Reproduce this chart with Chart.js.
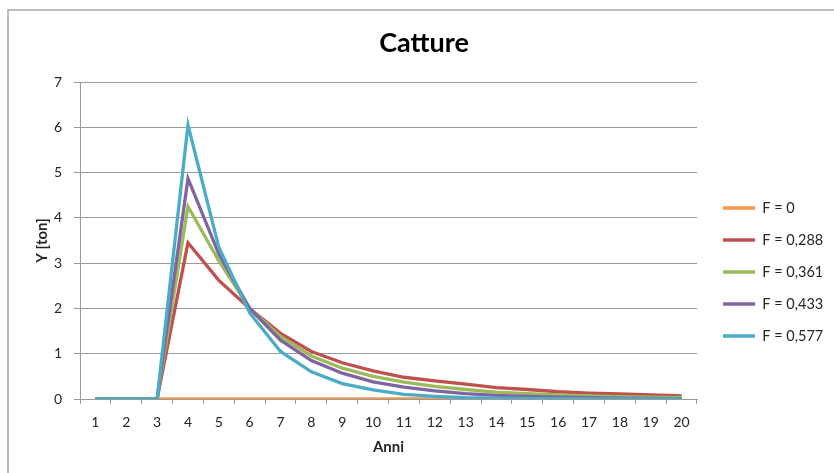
<!DOCTYPE html>
<html>
<head>
<meta charset="utf-8">
<script src="https://cdn.jsdelivr.net/npm/chart.js@4/dist/chart.umd.min.js"></script>
<style>
  html, body { margin: 0; padding: 0; background: #ffffff; }
  #c { display: block; }
</style>
</head>
<body>
<canvas id="c" width="834" height="473"></canvas>
<script>
// Years on the x axis
const anni = ['1','2','3','4','5','6','7','8','9','10','11','12','13','14','15','16','17','18','19','20'];

// Catch (tons) per year for each fishing mortality F
const catF0    = [0,0,0,0,0,0,0,0,0,0,0,0,0,0,0,0,0,0,0,0];
const catF0288 = [0,0,0,3.45,2.62,2.0,1.45,1.05,0.8,0.62,0.48,0.4,0.33,0.25,0.21,0.16,0.13,0.11,0.09,0.07];
const catF0361 = [0,0,0,4.25,3.05,2.0,1.38,0.95,0.68,0.5,0.37,0.28,0.21,0.15,0.12,0.09,0.07,0.05,0.04,0.03];
const catF0433 = [0,0,0,4.87,3.2,2.0,1.3,0.85,0.57,0.38,0.26,0.18,0.12,0.08,0.06,0.04,0.03,0.02,0.015,0.01];
const catF0577 = [0,0,0,6.05,3.35,1.9,1.05,0.6,0.34,0.2,0.1,0.06,0.03,0.02,0.01,0.01,0,0,0,0];

const seriesLabels = ['F = 0', 'F = 0,288', 'F = 0,361', 'F = 0,433', 'F = 0,577'];
const seriesData = [catF0, catF0288, catF0361, catF0433, catF0577];
const seriesColors = ['#F79646', '#C0504D', '#9BBB59', '#8064A2', '#4BACC6'];

const FONT = 'Lato, "Liberation Sans", sans-serif';
const TEXT = '#262626';
const GRID = '#9a9a9a';

const datasets = seriesData.map((d, i) => ({
  label: seriesLabels[i],
  data: d,
  borderColor: seriesColors[i],
  backgroundColor: seriesColors[i],
  borderWidth: 3.3,
  pointRadius: 0,
  pointHoverRadius: 0,
  tension: 0,
  fill: false,
  order: seriesData.length - 1 - i   // later series drawn on top
}));

// Outer frame of the chart object
const framePlugin = {
  id: 'frame',
  beforeDraw(chart) {
    const ctx = chart.ctx;
    ctx.save();
    ctx.fillStyle = '#ffffff';
    ctx.fillRect(0, 0, chart.width, chart.height);
    ctx.strokeStyle = '#a9a9a9';
    ctx.lineWidth = 1.5;
    ctx.strokeRect(8, 10, chart.width + 20, chart.height + 20);
    ctx.restore();
  }
};

// Fixed-width legend column on the right
const LEGEND_W = 137;
const legendFit = {
  id: 'legendFit',
  afterInit(chart) {
    const lg = chart.legend;
    if (!lg) return;
    const fit = lg.fit;
    lg.fit = function () { fit.call(this); this.width = LEGEND_W; };
  },
  afterLayout(chart) {
    const lg = chart.legend;
    if (!lg) return;
    lg.left += 8.5; lg.right += 8.5;
    lg.top += 35.5; lg.bottom += 35.5;
  }
};

new Chart(document.getElementById('c'), {
  type: 'line',
  data: { labels: anni, datasets },
  plugins: [framePlugin, legendFit],
  options: {
    responsive: false,
    animation: false,
    devicePixelRatio: 1,
    layout: { padding: { left: 14, right: 0, top: 0, bottom: 0 } },
    plugins: {
      title: {
        display: true,
        text: 'Catture',
        color: '#000000',
        font: { family: FONT, size: 27, weight: 'bold' },
        padding: { top: 26.8, bottom: 22.8 }
      },
      legend: {
        position: 'right',
        labels: {
          color: TEXT,
          font: { family: FONT, size: 14.5 },
          boxWidth: 32,
          boxHeight: 0,
          padding: 17.5,
          sort: (a, b) => a.datasetIndex - b.datasetIndex
        }
      },
      tooltip: { enabled: false }
    },
    scales: {
      x: {
        offset: true,
        grid: {
          offset: true,
          drawOnChartArea: false,
          drawTicks: true,
          tickLength: 5,
          color: GRID
        },
        border: { display: true, color: GRID, width: 1 },
        ticks: {
          color: TEXT,
          font: { family: FONT, size: 14 },
          padding: 10,
          maxRotation: 0,
          autoSkip: false
        },
        title: {
          display: true,
          text: 'Anni',
          color: TEXT,
          font: { family: FONT, size: 15, weight: 'bold' },
          padding: { top: 4, bottom: 17 }
        },
        afterFit(scale) { scale.height = 74; }
      },
      y: {
        min: 0,
        max: 7,
        ticks: {
          stepSize: 1,
          color: TEXT,
          font: { family: FONT, size: 14 },
          padding: 12
        },
        grid: {
          color: GRID,
          drawTicks: true,
          tickLength: 6
        },
        border: { display: true, color: GRID, width: 1 },
        title: {
          display: true,
          text: 'Y [ton]',
          color: TEXT,
          font: { family: FONT, size: 15, weight: 'bold' },
          padding: { top: 19, bottom: 4 }
        },
        afterFit(scale) { scale.width = 66; }
      }
    }
  }
});
</script>
</body>
</html>
